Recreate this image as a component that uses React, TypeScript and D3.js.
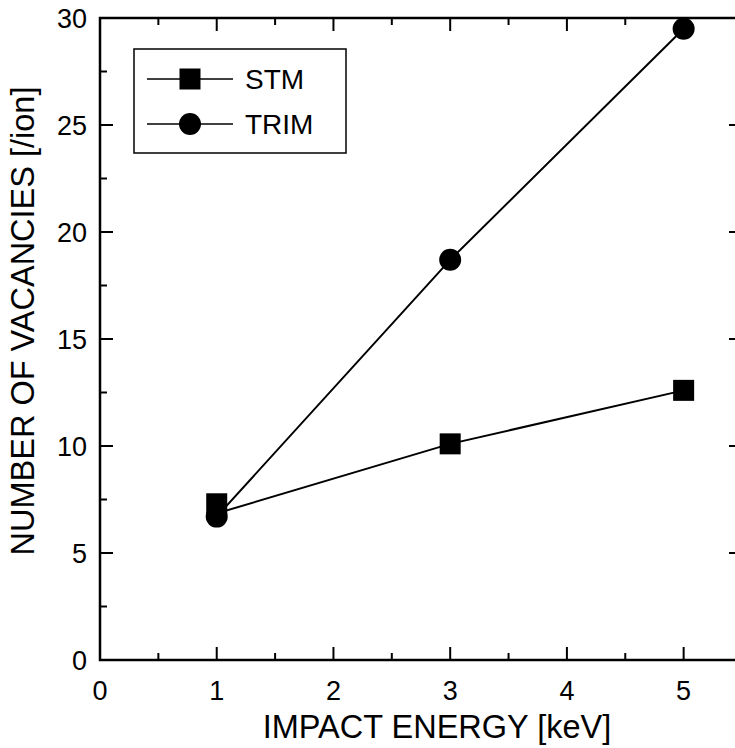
import { useEffect, useRef } from "react";
import * as d3 from "d3";

const energies = [1, 3, 5];
const stmValues = [7.3, 10.1, 12.6];
// the STM connecting line starts lower than its first marker in the original plot
const stmLineValues = [6.85, 10.1, 12.6];
const trimValues = [6.7, 18.7, 29.5];
const xTicks = [0, 1, 2, 3, 4, 5];
const yTicks = [0, 5, 10, 15, 20, 25, 30];
const seriesNames = ["STM", "TRIM"];

export default function App() {
  const svgRef = useRef<SVGSVGElement | null>(null);

  useEffect(() => {
    const W = 735, H = 748;
    const margin = { top: 18, right: -7, bottom: 88, left: 100 };
    const width = W - margin.left - margin.right;
    const height = H - margin.top - margin.bottom;
    const font = "Liberation Sans, Arial, sans-serif";

    const svg = d3.select(svgRef.current);
    svg.selectAll("*").remove();
    svg.attr("width", W).attr("height", H);

    const g = svg.append("g").attr("transform", `translate(${margin.left},${margin.top})`);

    const x = d3.scaleLinear().domain([0, 5.5]).range([0, width]);
    const y = d3.scaleLinear().domain([0, 30]).range([height, 0]);

    const minorX = d3.range(0, 5.51, 0.5).filter(v => !xTicks.includes(v));
    const minorY = d3.range(0, 30.1, 2.5).filter(v => !yTicks.includes(v));

    const tickG = g.append("g").attr("stroke", "#000").attr("stroke-width", 2);
    const major = 13, minor = 7;
    xTicks.forEach(v => {
      tickG.append("line").attr("x1", x(v)).attr("x2", x(v)).attr("y1", height).attr("y2", height - major);
      tickG.append("line").attr("x1", x(v)).attr("x2", x(v)).attr("y1", 0).attr("y2", major);
    });
    minorX.forEach(v => {
      tickG.append("line").attr("x1", x(v)).attr("x2", x(v)).attr("y1", height).attr("y2", height - minor);
      tickG.append("line").attr("x1", x(v)).attr("x2", x(v)).attr("y1", 0).attr("y2", minor);
    });
    yTicks.forEach(v => {
      tickG.append("line").attr("x1", 0).attr("x2", major).attr("y1", y(v)).attr("y2", y(v));
      tickG.append("line").attr("x1", width).attr("x2", width - major).attr("y1", y(v)).attr("y2", y(v));
    });
    minorY.forEach(v => {
      tickG.append("line").attr("x1", 0).attr("x2", minor).attr("y1", y(v)).attr("y2", y(v));
      tickG.append("line").attr("x1", width).attr("x2", width - minor).attr("y1", y(v)).attr("y2", y(v));
    });

    g.append("rect").attr("x", 0).attr("y", 0).attr("width", width).attr("height", height)
      .attr("fill", "none").attr("stroke", "#000").attr("stroke-width", 2.5);

    g.selectAll(".xl").data(xTicks).join("text")
      .attr("x", d => x(d)).attr("y", height + 40)
      .attr("text-anchor", "middle").attr("font-family", font).attr("font-size", 27)
      .text(d => d);
    g.selectAll(".yl").data(yTicks).join("text")
      .attr("x", -13).attr("y", d => y(d)).attr("dy", "0.36em")
      .attr("text-anchor", "end").attr("font-family", font).attr("font-size", 27)
      .text(d => d);

    svg.append("text").attr("x", 437).attr("y", 738)
      .attr("text-anchor", "middle").attr("font-family", font).attr("font-size", 32.5)
      .text("IMPACT ENERGY [keV]");
    svg.append("text").attr("transform", `translate(34,321) rotate(-90)`)
      .attr("text-anchor", "middle").attr("font-family", font).attr("font-size", 32.5)
      .text("NUMBER OF VACANCIES [/ion]");

    const line = d3.line<number>().x((_, i) => x(energies[i])).y(d => y(d));
    [stmLineValues, trimValues].forEach(vals => {
      g.append("path").datum(vals).attr("fill", "none").attr("stroke", "#000").attr("stroke-width", 2).attr("d", line);
    });

    const sq = 21, r = 11;
    g.selectAll(".stm").data(stmValues).join("rect")
      .attr("x", (_, i) => x(energies[i]) - sq / 2).attr("y", d => y(d) - sq / 2)
      .attr("width", sq).attr("height", sq).attr("fill", "#000");
    g.selectAll(".trim").data(trimValues).join("circle")
      .attr("cx", (_, i) => x(energies[i])).attr("cy", d => y(d)).attr("r", r).attr("fill", "#000");

    // legend
    const lg = svg.append("g");
    lg.append("rect").attr("x", 134).attr("y", 49).attr("width", 212).attr("height", 104)
      .attr("fill", "#fff").attr("stroke", "#000").attr("stroke-width", 1.5);
    seriesNames.forEach((name, i) => {
      const cy = 79 + i * 45;
      lg.append("line").attr("x1", 147).attr("x2", 233).attr("y1", cy).attr("y2", cy)
        .attr("stroke", "#000").attr("stroke-width", 1.5);
      if (i === 0) {
        lg.append("rect").attr("x", 190 - sq / 2).attr("y", cy - sq / 2).attr("width", sq).attr("height", sq).attr("fill", "#000");
      } else {
        lg.append("circle").attr("cx", 190).attr("cy", cy).attr("r", r).attr("fill", "#000");
      }
      lg.append("text").attr("x", 245).attr("y", cy).attr("dy", "0.36em")
        .attr("font-family", font).attr("font-size", 28).text(name);
    });
  }, []);

  return <svg ref={svgRef} style={{ position: "absolute", left: 0, top: 0, display: "block" }}></svg>;
}
